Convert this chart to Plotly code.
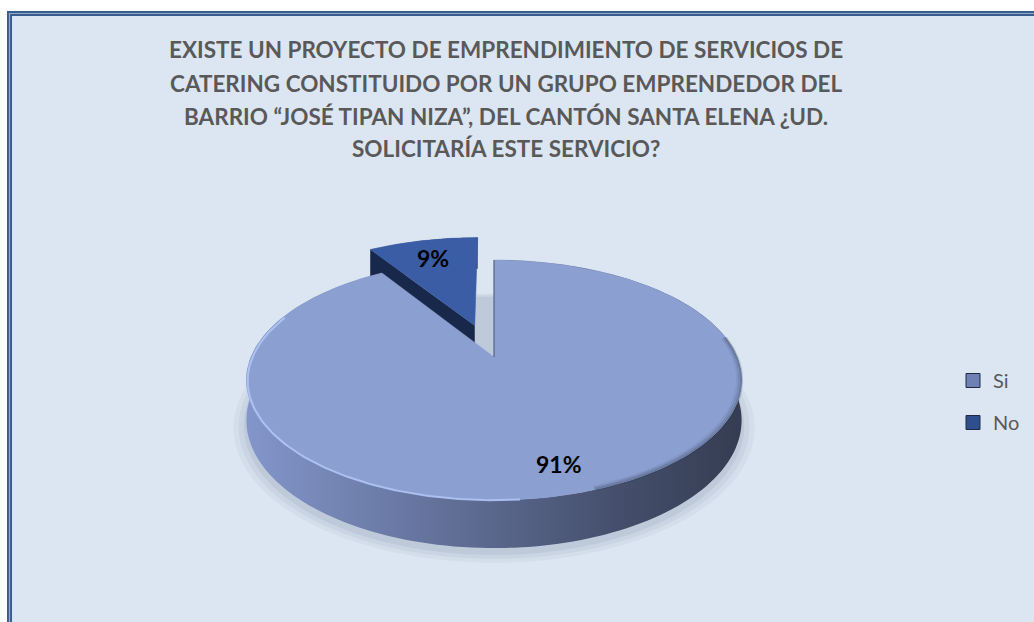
import numpy as np
import plotly.graph_objects as go

# ---- data ----
categories = ["Si", "No"]
values = [91, 9]
title_lines = [
    "EXISTE UN PROYECTO DE EMPRENDIMIENTO DE SERVICIOS DE",
    "CATERING CONSTITUIDO POR UN GRUPO EMPRENDEDOR DEL",
    "BARRIO “JOSÉ TIPAN NIZA”, DEL CANTÓN SANTA ELENA ¿UD.",
    "SOLICITARÍA ESTE SERVICIO?",
]

# ---- styling / geometry of the 3-D pie ----
W, H = 1034, 622
CX, CY = 494, 357          # projected centre of the top face
RX, RY = 243, 115.6        # radii of the disc before perspective
PERSP = 0.192              # perspective strength (far side smaller)
DEPTH = 38.8               # thickness of the disc
EXPLODE = [0.0, 0.30]      # pull-out of each slice
LABEL_R = [0.82, 0.77]     # label distance from slice apex
TOP_COL = ["#8B9FD1", "#3A5DA6"]
CUT_COL = ["#5E6E9C", "#18284A"]
LEGEND_COL = ["#6F80B4", "#2F4E8E"]
BG = "#DCE6F2"
TEXT_COL = "#595959"
FONT = "Lato"


def proj(u, v, dz=0.0):
    s = 1.0 / (1.0 + PERSP * v)
    return CX + RX * u * s, CY - RY * v * s + DEPTH * dz * s


def ring(th, off, r=1.0, dz=0.0):
    u = off[0] + r * np.sin(th)
    v = off[1] + r * np.cos(th)
    return proj(u, v, dz)


total = float(sum(values))
shares = [v / total for v in values]
starts = np.cumsum([0.0] + shares[:-1]) * 2 * np.pi
ends = starts + np.array(shares) * 2 * np.pi

fig = go.Figure()

# soft shadow under the disc
full = np.linspace(0, 2 * np.pi, 240)
for grow, alpha in [(1.05, 0.06), (1.03, 0.08), (1.01, 0.10)]:
    sx, sy = ring(full, (0.0, 0.0), r=grow, dz=1.0)
    fig.add_trace(go.Scatter(x=sx, y=np.array(sy) + 5, fill="toself", mode="none",
                             fillcolor=f"rgba(90,110,140,{alpha})",
                             hoverinfo="skip", showlegend=False))

slices = []
for i, (a0, a1) in enumerate(zip(starts, ends)):
    mid = 0.5 * (a0 + a1)
    off = (EXPLODE[i] * np.sin(mid), EXPLODE[i] * np.cos(mid))
    slices.append((i, a0, a1, mid, off))

# pulled-out slice sits behind, so it is painted first
order = sorted(slices, key=lambda s: 0 if EXPLODE[s[0]] > 0 else 1)

for i, a0, a1, mid, off in order:
    th = np.linspace(a0, a1, 200)
    # outer wall (front part shows, back part hidden by the top face)
    tx, ty = ring(th, off)
    bx, by = ring(th[::-1], off, dz=1.0)
    fig.add_trace(go.Scatter(
        x=np.concatenate([tx, bx]), y=np.concatenate([ty, by]),
        fill="toself", mode="none",
        fillgradient=dict(type="horizontal",
                          colorscale=[[0, "#8396CB"], [0.35, "#66759F"],
                                      [0.75, "#454F6C"], [1, "#353D52"]]),
        hoverinfo="skip", showlegend=False))
    ax0, ay0 = proj(off[0], off[1])
    ax1, ay1 = proj(off[0], off[1], 1.0)
    ox0, oy0 = ring(np.array([a0]), off)
    ox1, oy1 = ring(np.array([a0]), off, dz=1.0)
    if EXPLODE[i] > 0:
        # cut face along the leading edge of the pulled-out slice
        fig.add_trace(go.Scatter(
            x=[ax0, ox0[0], ox1[0], ax1], y=[ay0, oy0[0], oy1[0], ay1],
            fill="toself", mode="none", fillcolor=CUT_COL[i],
            hoverinfo="skip", showlegend=False))
    # top face
    fx = np.concatenate([[ax0], tx, [ax0]])
    fy = np.concatenate([[ay0], ty, [ay0]])
    fig.add_trace(go.Scatter(x=fx, y=fy, fill="toself", mode="lines",
                             line=dict(color=TOP_COL[i], width=0.5),
                             fillcolor=TOP_COL[i], hoverinfo="skip",
                             showlegend=False))
    if EXPLODE[i] == 0:
        # thin dark edge on the radial cut at 12 o'clock
        fig.add_trace(go.Scatter(x=[ax0, ox0[0]], y=[ay0, oy0[0]],
                                 mode="lines", line=dict(color="#4A5674", width=1),
                                 hoverinfo="skip", showlegend=False))
        # bevel highlight on the front-left rim
        hth = np.linspace(np.radians(175), np.radians(292), 120)
        hx, hy = ring(hth, off, r=0.995)
        fig.add_trace(go.Scatter(x=hx, y=np.array(hy) + 1, mode="lines",
                                 line=dict(color="rgba(176,196,245,0.9)", width=2),
                                 hoverinfo="skip", showlegend=False))
        # soft shading on the front-right rim
        sth = np.linspace(np.radians(80), np.radians(160), 120)
        for rr, al in [(0.985, 0.08), (0.993, 0.14), (1.0, 0.22)]:
            shx, shy = ring(sth, off, r=rr)
            fig.add_trace(go.Scatter(x=shx, y=shy, mode="lines",
                                     line=dict(color=f"rgba(40,48,70,{al})", width=3),
                                     hoverinfo="skip", showlegend=False))

# percentage labels
for i, a0, a1, mid, off in slices:
    lx, ly = proj(off[0] + LABEL_R[i] * np.sin(mid),
                  off[1] + LABEL_R[i] * np.cos(mid))
    fig.add_annotation(x=lx, y=ly, xref="x", yref="y", showarrow=False,
                       text=f"{round(shares[i] * 100)}%",
                       font=dict(family=FONT, size=23, color="black", weight="bold"))

# legend entries
for i, name in enumerate(categories):
    fig.add_trace(go.Scatter(x=[None], y=[None], mode="markers", name=name,
                             legendgroup=name,
                             marker=dict(symbol="square", size=14, color=LEGEND_COL[i],
                                         line=dict(color="#1E2A44", width=1))))

# title lines
for k, line in enumerate(title_lines):
    fig.add_annotation(x=506 / W, y=1 - (50 + 33 * k) / H, xref="paper", yref="paper",
                       showarrow=False, text=line, xanchor="center", yanchor="middle",
                       font=dict(family=FONT, size=22.5, color=TEXT_COL, weight="bold"))

# chart frame: light fill with a double blue border
fig.add_shape(type="rect", xref="paper", yref="paper", x0=7 / W, x1=1.05,
              y0=-0.05, y1=1 - 11 / H, fillcolor=BG, line=dict(width=0), layer="below")
fig.add_shape(type="rect", xref="paper", yref="paper", x0=9.5 / W, x1=1.05,
              y0=-0.05, y1=1 - 13.5 / H, line=dict(color="#385C8C", width=5),
              layer="below")
fig.add_shape(type="rect", xref="paper", yref="paper", x0=9.5 / W, x1=1.05,
              y0=-0.05, y1=1 - 13.5 / H, line=dict(color="#8FACCE", width=1.2),
              layer="below")

fig.update_layout(
    width=W, height=H,
    margin=dict(l=0, r=0, t=0, b=0),
    paper_bgcolor="white", plot_bgcolor="rgba(0,0,0,0)",
    xaxis=dict(range=[0, W], visible=False, fixedrange=True),
    yaxis=dict(range=[H, 0], visible=False, fixedrange=True),
    showlegend=True,
    legend=dict(x=953 / W, y=1 - 361 / H, xanchor="left", yanchor="top",
                bgcolor="rgba(0,0,0,0)", traceorder="grouped", tracegroupgap=13,
                font=dict(family=FONT, size=20, color=TEXT_COL)),
)

fig.write_html("out.html")
